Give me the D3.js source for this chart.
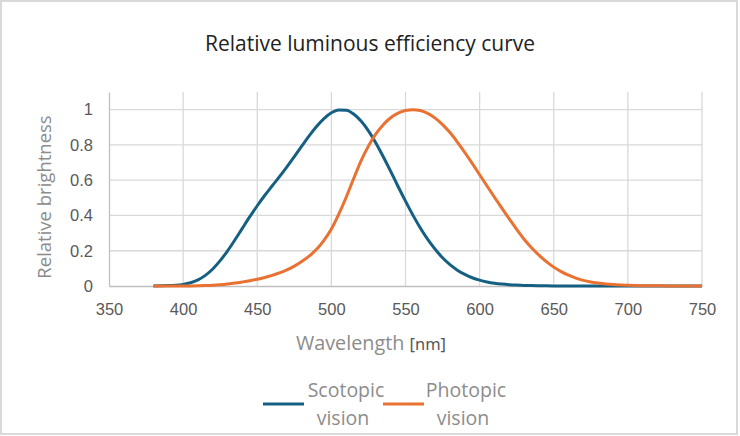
<!DOCTYPE html>
<html>
<head>
<meta charset="utf-8">
<script src="https://cdn.jsdelivr.net/npm/d3@7"></script>
<style>
  body { margin: 0; background: #fff; }
  .sans { font-family: "Open Sans", "Noto Sans", sans-serif; }
  .tick text { font-family: "Liberation Sans", Arial, sans-serif; }
</style>
</head>
<body>
<div id="chart"></div>
<script>
// wavelengths in nm, 5 nm steps
var wavelengths = d3.range(380, 751, 5);

// scotopic (night) vision, relative brightness
var scotopic = [
  0.0006, 0.0011, 0.0022, 0.0045, 0.0093, 0.0185, 0.0348, 0.0604, 0.0966, 0.1436,
  0.1998, 0.2625, 0.3281, 0.3931, 0.455, 0.513, 0.567, 0.620, 0.676, 0.734,
  0.793, 0.851, 0.904, 0.949, 0.982, 0.998, 0.997, 0.975, 0.935, 0.880,
  0.811, 0.733, 0.650, 0.564, 0.481, 0.402, 0.329, 0.264, 0.208, 0.160,
  0.121, 0.090, 0.0655, 0.0469, 0.0332, 0.0231, 0.0159, 0.0109, 0.0074, 0.0050,
  0.0033, 0.0022, 0.0015, 0.0010, 0.0007, 0.0005, 0.0003, 0.0002, 0.00015, 0.0001,
  0.00007, 0.00005, 0.00004, 0.00003, 0.00002, 0.00001, 0.00001, 0.00001, 0, 0,
  0, 0, 0, 0, 0
];

// photopic (day) vision, relative brightness
var photopic = [
  0.00004, 0.00006, 0.0001, 0.0002, 0.0004, 0.0006, 0.0012, 0.0022, 0.004, 0.0073,
  0.0116, 0.0168, 0.023, 0.0298, 0.038, 0.048, 0.060, 0.0739, 0.091, 0.1126,
  0.139, 0.1693, 0.208, 0.2586, 0.323, 0.4073, 0.503, 0.6082, 0.710, 0.7932,
  0.862, 0.9149, 0.954, 0.9803, 0.995, 1.0, 0.995, 0.9786, 0.952, 0.9154,
  0.870, 0.8163, 0.757, 0.6949, 0.631, 0.5668, 0.503, 0.4412, 0.381, 0.321,
  0.265, 0.217, 0.175, 0.1382, 0.107, 0.0816, 0.061, 0.0446, 0.032, 0.0232,
  0.017, 0.0119, 0.0082, 0.0057, 0.0041, 0.0029, 0.0021, 0.0015, 0.001, 0.0007,
  0.0005, 0.0004, 0.0002, 0.0002, 0.0001
];

var xTicks = [350, 400, 450, 500, 550, 600, 650, 700, 750];
var yTicks = [0, 0.2, 0.4, 0.6, 0.8, 1];

var seriesNames = ["Scotopic vision", "Photopic vision"];
var seriesColors = ["#156082", "#e97132"];

var width = 740, height = 436;
var margin = {top: 92, right: 38, bottom: 150, left: 109};
var w = 702 - margin.left, h = 286 - margin.top;

var svg = d3.select("#chart").append("svg")
    .attr("width", width).attr("height", height);

// chart border
svg.append("rect")
   .attr("x", 1).attr("y", 1).attr("width", 736).attr("height", 433)
   .attr("fill", "#fff").attr("stroke", "#d9d9d9").attr("stroke-width", 2);

svg.append("text")
   .attr("class", "sans")
   .attr("x", 370).attr("y", 51)
   .attr("text-anchor", "middle")
   .attr("font-size", 21)
   .attr("fill", "#222")
   .text("Relative luminous efficiency curve");

var xScale = d3.scaleLinear().domain([350, 750]).range([0, w]);
var yScale = d3.scaleLinear().domain([0, 1.1]).range([h, 0]);

var g = svg.append("g").attr("transform", `translate(${margin.left},${margin.top})`);

// gridlines
g.append("g").selectAll("line").data(xTicks.slice(1)).join("line")
  .attr("x1", d => xScale(d)).attr("x2", d => xScale(d))
  .attr("y1", 0).attr("y2", h)
  .attr("stroke", "#d9d9d9").attr("stroke-width", 1.3);
g.append("g").selectAll("line").data(yTicks.slice(1)).join("line")
  .attr("x1", 0).attr("x2", w)
  .attr("y1", d => yScale(d)).attr("y2", d => yScale(d))
  .attr("stroke", "#d9d9d9").attr("stroke-width", 1.3);

// axes
let xAx = g.append("g").attr("transform", `translate(0,${h})`)
  .call(d3.axisBottom(xScale).tickValues(xTicks).tickSize(0).tickPadding(17));
xAx.select(".domain").attr("stroke", "#bfbfbf").attr("stroke-width", 1.3);
xAx.selectAll(".tick text").attr("font-size", 16.5).attr("fill", "#595959");

let yAx = g.append("g")
  .call(d3.axisLeft(yScale).tickValues(yTicks).tickSize(0).tickPadding(16)
        .tickFormat(d3.format("~g")));
yAx.select(".domain").attr("stroke", "#bfbfbf").attr("stroke-width", 1.3);
yAx.selectAll(".tick text").attr("font-size", 16.5).attr("fill", "#595959");

// curves
var line = d3.line()
  .x((d, i) => xScale(wavelengths[i]))
  .y(d => yScale(d))
  .curve(d3.curveMonotoneX);

[scotopic, photopic].forEach(function(s, k){
  g.append("path")
   .datum(s)
   .attr("fill", "none")
   .attr("stroke", seriesColors[k])
   .attr("stroke-width", 3)
   .attr("stroke-linejoin", "round")
   .attr("d", line);
});

// axis titles
svg.append("text")
   .attr("class", "sans")
   .attr("transform", "translate(51,197) rotate(-90)")
   .attr("text-anchor", "middle")
   .attr("font-size", 18.5)
   .attr("fill", "#8c8c8c")
   .text("Relative brightness");

let xt = svg.append("text")
   .attr("class", "sans")
   .attr("x", 371).attr("y", 350)
   .attr("text-anchor", "middle")
   .attr("fill", "#8c8c8c")
   .attr("font-size", 19.8);
xt.append("tspan").text("Wavelength ");
xt.append("tspan").attr("font-family", "Noto Sans").attr("font-size", 16.5)
  .attr("fill", "#555").text("[nm]");

// legend
var legendX = [263, 383];
seriesNames.forEach(function(name, k){
  let lg = svg.append("g").attr("transform", `translate(${legendX[k]},0)`);
  lg.append("line")
    .attr("x1", 0).attr("x2", 41).attr("y1", 404).attr("y2", 404)
    .attr("stroke", seriesColors[k]).attr("stroke-width", 3);
  let parts = name.split(" ");
  lg.append("text").attr("class", "sans")
    .attr("x", 83).attr("y", 397).attr("text-anchor", "middle")
    .attr("font-size", 19.5).attr("fill", "#8c8c8c").text(parts[0]);
  lg.append("text").attr("class", "sans")
    .attr("x", 80).attr("y", 425).attr("text-anchor", "middle")
    .attr("font-size", 19.5).attr("fill", "#8c8c8c").text(parts[1]);
});
</script>
</body>
</html>
